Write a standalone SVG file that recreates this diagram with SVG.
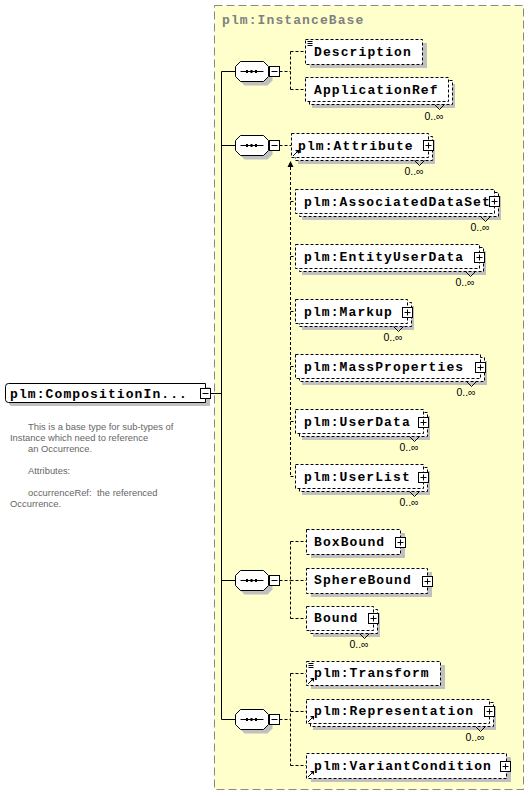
<svg xmlns="http://www.w3.org/2000/svg" xmlns:xlink="http://www.w3.org/1999/xlink" width="530" height="796" viewBox="0 0 530 796">
<style>
.bx{fill:#fff;stroke:#000;stroke-dasharray:3,2}
.sh{fill:#c0c0c0}
.t{font-family:"Liberation Mono",monospace;font-weight:bold;font-size:13px;letter-spacing:1.1px;fill:#000}
.oc{font-family:"Liberation Sans",Arial,sans-serif;font-size:10.5px;text-anchor:middle;fill:#000}
.ds{font-family:"Liberation Sans",Arial,sans-serif;font-size:9.4px;fill:#666}
.cn{fill:none;stroke:#000;stroke-dasharray:3,2}
.ln{fill:none;stroke:#000}
.nt{fill:none;stroke:#000}
</style>
<defs>
<g id="plus"><rect x="-5" y="-5" width="10" height="10" fill="#fff" stroke="#000"/><path d="M-3,0H3M0,-3V3" stroke="#000"/></g>
<g id="minus"><rect x="-5" y="-5" width="10" height="10" fill="#fff" stroke="#000"/><path d="M-3,0H3" stroke="#000"/></g>
<g id="seq">
<polygon class="sh" points="9,-6 32,-6 37,-1 37,9 32,14 9,14 4,9 4,-1"/>
<polygon fill="#fff" stroke="#000" points="5,-10 28,-10 33,-5 33,5 28,10 5,10 0,5 0,-5"/>
<path d="M5,0H28" stroke="#000"/>
<rect x="10.5" y="-1.5" width="2" height="3"/><rect x="15" y="-1.5" width="2" height="3"/><rect x="19.5" y="-1.5" width="2" height="3"/>
<use xlink:href="#minus" x="39" y="0"/>
</g>
<g id="doc"><path d="M0,0H5M0,2H5M0,4H5" stroke="#000"/></g>
<g id="ref"><path d="M0,6L5,1" stroke="#000"/><polygon points="2,0 6,0 6,4"/></g>
</defs>

<rect x="214.5" y="5.5" width="309" height="784" fill="#ffffcc" stroke="#888" stroke-dasharray="8,4"/>
<text class="t" x="222" y="24" style="fill:#808080">plm:InstanceBase</text>

<g id="connectors">
<path class="ln" d="M221.5,71.5V719.5M221.5,71.5H235M221.5,145.5H235M221.5,580.5H235M221.5,719.5H235M210.5,393.5H221.5"/>
<path class="cn" d="M279.5,71.5H290.5M290.5,51.5V89.5M290.5,51.5H305M290.5,89.5H305"/>
<path class="cn" d="M279.5,145.5H291M290.5,167V476.5M290.5,201.5H295M290.5,256.5H295M290.5,311.5H295M290.5,366.5H295M290.5,421.5H295M290.5,476.5H295"/>
<polygon points="287.5,167 293.5,167 290.5,161"/>
<path class="cn" d="M279.5,580.5H290.5M290.5,541.5V618.5M290.5,541.5H306M290.5,580.5H306M290.5,618.5H306"/>
<path class="cn" d="M279.5,719.5H290.5M290.5,673.5V765.5M290.5,673.5H306M290.5,711.5H306M290.5,765.5H306"/>
</g>

<g id="seq1"><use xlink:href="#seq" x="235.5" y="71.5"/></g>
<g id="seq2"><use xlink:href="#seq" x="235.5" y="145.5"/></g>
<g id="seq3"><use xlink:href="#seq" x="235.5" y="580.5"/></g>
<g id="seq4"><use xlink:href="#seq" x="235.5" y="719.5"/></g>

<g id="CompositionInstance">
<path class="sh" d="M12,387H210V406H12Q9,406 9,403V390Q9,387 12,387Z"/>
<path fill="#fff" stroke="#000" d="M8.5,383.5H205.5V402.5H8.5Q5.5,402.5 5.5,399.5V386.5Q5.5,383.5 8.5,383.5Z"/>
<text class="t" x="10" y="398">plm:CompositionIn...</text>
<use xlink:href="#minus" x="205.5" y="393.5"/>
<text class="ds" x="28" y="430">This is a base type for sub-types of</text>
<text class="ds" x="10" y="441">Instance which need to reference</text>
<text class="ds" x="28" y="452">an Occurrence.</text>
<text class="ds" x="28" y="474">Attributes:</text>
<text class="ds" x="28" y="496">occurrenceRef:<tspan x="97">the referenced</tspan></text>
<text class="ds" x="10" y="507">Occurrence.</text>
</g>

<g id="Description">
<rect class="sh" x="310" y="43" width="117" height="25"/>
<rect class="bx" x="305.5" y="39.5" width="117" height="25"/>
<use xlink:href="#doc" x="307.5" y="41.5"/>
<text class="t" x="314" y="56">Description</text>
</g>

<g id="ApplicationRef">
<rect class="sh" x="312" y="84" width="143" height="24"/>
<rect class="bx" x="309.5" y="80.5" width="143" height="24"/>
<rect class="bx" x="305.5" y="77.5" width="143" height="24"/>
<path class="nt" d="M434.5,104.5L439.5,109.5L444.5,104.5"/>
<text class="t" x="314" y="94">ApplicationRef</text>
<text class="oc" x="434" y="120">0..∞</text>
</g>

<g id="Attribute">
<rect class="sh" x="298" y="140" width="137" height="24"/>
<rect class="bx" x="295.5" y="136.5" width="137" height="24"/>
<rect class="bx" x="291.5" y="133.5" width="137" height="24"/>
<use xlink:href="#ref" x="293" y="150"/>
<text class="t" x="298" y="150">plm:Attribute</text>
<use xlink:href="#plus" x="428.5" y="145.5"/>
<path class="nt" d="M414.5,160.5L419.5,165.5L424.5,160.5"/>
<text class="oc" x="414" y="175">0..∞</text>
</g>

<g id="AssociatedDataSet">
<rect class="sh" x="302" y="196" width="199" height="24"/>
<rect class="bx" x="299.5" y="192.5" width="199" height="24"/>
<rect class="bx" x="295.5" y="189.5" width="199" height="24"/>
<text class="t" x="304" y="206">plm:AssociatedDataSet</text>
<use xlink:href="#plus" x="494.5" y="201.5"/>
<path class="nt" d="M480.5,216.5L485.5,221.5L490.5,216.5"/>
<text class="oc" x="480" y="231">0..∞</text>
</g>

<g id="EntityUserData">
<rect class="sh" x="302" y="251" width="184" height="24"/>
<rect class="bx" x="299.5" y="247.5" width="184" height="24"/>
<rect class="bx" x="295.5" y="244.5" width="184" height="24"/>
<text class="t" x="304" y="261">plm:EntityUserData</text>
<use xlink:href="#plus" x="479.5" y="257.5"/>
<path class="nt" d="M465.5,271.5L470.5,276.5L475.5,271.5"/>
<text class="oc" x="465" y="286">0..∞</text>
</g>

<g id="Markup">
<rect class="sh" x="302" y="306" width="112" height="24"/>
<rect class="bx" x="299.5" y="302.5" width="112" height="24"/>
<rect class="bx" x="295.5" y="299.5" width="112" height="24"/>
<text class="t" x="304" y="316">plm:Markup</text>
<use xlink:href="#plus" x="407.5" y="312.5"/>
<path class="nt" d="M393.5,326.5L398.5,331.5L403.5,326.5"/>
<text class="oc" x="393" y="341">0..∞</text>
</g>

<g id="MassProperties">
<rect class="sh" x="302" y="361" width="185" height="24"/>
<rect class="bx" x="299.5" y="357.5" width="185" height="24"/>
<rect class="bx" x="295.5" y="354.5" width="185" height="24"/>
<text class="t" x="304" y="371">plm:MassProperties</text>
<use xlink:href="#plus" x="480.5" y="367.5"/>
<path class="nt" d="M466.5,381.5L471.5,386.5L476.5,381.5"/>
<text class="oc" x="466" y="396">0..∞</text>
</g>

<g id="UserData">
<rect class="sh" x="302" y="416" width="128" height="24"/>
<rect class="bx" x="299.5" y="412.5" width="128" height="24"/>
<rect class="bx" x="295.5" y="409.5" width="128" height="24"/>
<text class="t" x="304" y="426">plm:UserData</text>
<use xlink:href="#plus" x="423.5" y="422.5"/>
<path class="nt" d="M409.5,436.5L414.5,441.5L419.5,436.5"/>
<text class="oc" x="409" y="451">0..∞</text>
</g>

<g id="UserList">
<rect class="sh" x="302" y="471" width="128" height="24"/>
<rect class="bx" x="299.5" y="467.5" width="128" height="24"/>
<rect class="bx" x="295.5" y="464.5" width="128" height="24"/>
<text class="t" x="304" y="481">plm:UserList</text>
<use xlink:href="#plus" x="423.5" y="477.5"/>
<path class="nt" d="M409.5,491.5L414.5,496.5L419.5,491.5"/>
<text class="oc" x="409" y="506">0..∞</text>
</g>

<g id="BoxBound">
<rect class="sh" x="311" y="533" width="94" height="25"/>
<rect class="bx" x="306.5" y="529.5" width="94" height="25"/>
<text class="t" x="314" y="546">BoxBound</text>
<use xlink:href="#plus" x="400.5" y="542.5"/>
</g>

<g id="SphereBound">
<rect class="sh" x="311" y="572" width="121" height="25"/>
<rect class="bx" x="306.5" y="568.5" width="121" height="25"/>
<text class="t" x="314" y="584">SphereBound</text>
<use xlink:href="#plus" x="427.5" y="581.5"/>
</g>

<g id="Bound">
<rect class="sh" x="313" y="613" width="67" height="24"/>
<rect class="bx" x="310.5" y="609.5" width="67" height="24"/>
<rect class="bx" x="306.5" y="606.5" width="67" height="24"/>
<text class="t" x="314" y="622">Bound</text>
<use xlink:href="#plus" x="373.5" y="618.5"/>
<path class="nt" d="M359.5,633.5L364.5,638.5L369.5,633.5"/>
<text class="oc" x="359" y="648">0..∞</text>
</g>

<g id="Transform">
<rect class="sh" x="311" y="665" width="134" height="24"/>
<rect class="bx" x="306.5" y="661.5" width="134" height="24"/>
<use xlink:href="#doc" x="308.5" y="663.5"/>
<use xlink:href="#ref" x="308" y="678"/>
<text class="t" x="314" y="677">plm:Transform</text>
</g>

<g id="Representation">
<rect class="sh" x="313" y="706" width="183" height="24"/>
<rect class="bx" x="310.5" y="702.5" width="183" height="24"/>
<rect class="bx" x="306.5" y="699.5" width="183" height="24"/>
<use xlink:href="#ref" x="308" y="716"/>
<text class="t" x="314" y="715">plm:Representation</text>
<use xlink:href="#plus" x="489.5" y="711.5"/>
<path class="nt" d="M475.5,726.5L480.5,731.5L485.5,726.5"/>
<text class="oc" x="475" y="741">0..∞</text>
</g>

<g id="VariantCondition">
<rect class="sh" x="311" y="757" width="200" height="25"/>
<rect class="bx" x="306.5" y="753.5" width="200" height="25"/>
<use xlink:href="#ref" x="308" y="771"/>
<text class="t" x="314" y="770">plm:VariantCondition</text>
<use xlink:href="#plus" x="505.5" y="766.5"/>
</g>
</svg>
